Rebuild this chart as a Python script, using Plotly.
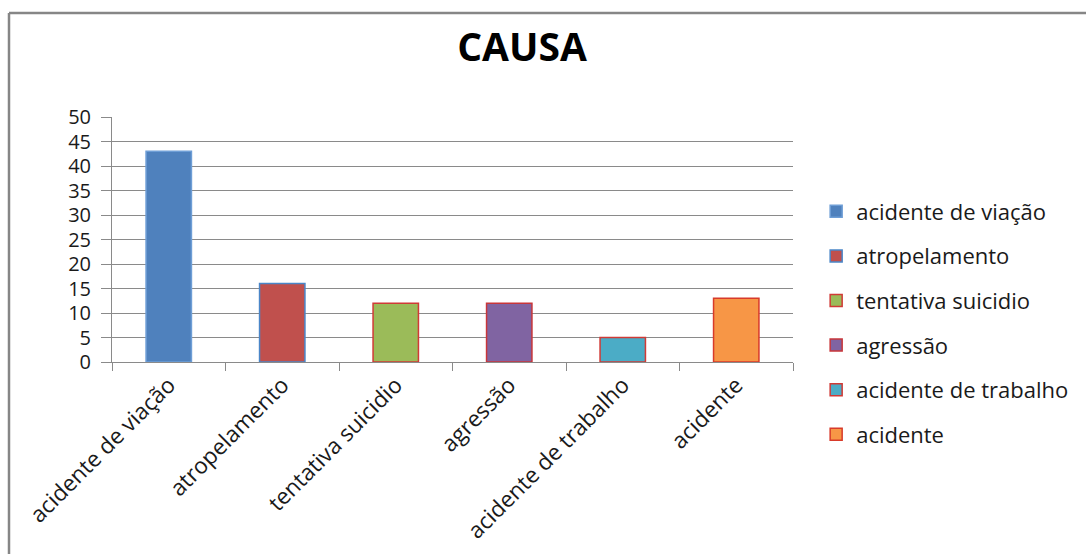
import plotly.graph_objects as go

# Cause categories and their counts
categories = ["acidente de viação", "atropelamento", "tentativa suicidio",
              "agressão", "acidente de trabalho", "acidente"]
values = [43, 16, 12, 12, 5, 13]
fill_colors = ["#4F81BD", "#C0504D", "#9BBB59", "#8064A2", "#4BACC6", "#F79646"]
edge_colors = ["#6E9ED6", "#4A86C8", "#D03A36", "#C8363A", "#D03A36", "#D83A2A"]
y_ticks = [0, 5, 10, 15, 20, 25, 30, 35, 40, 45, 50]

FONT = "Open Sans"
TEXT = "#1a1a1a"
SIZE = 22.5

fig = go.Figure()
for i, (cat, val) in enumerate(zip(categories, values)):
    fig.add_trace(go.Bar(
        x=[cat], y=[val], name=cat, width=0.4,
        legendgroup=cat,
        marker=dict(color=fill_colors[i],
                    line=dict(color=edge_colors[i], width=1.5)),
    ))

fig.update_layout(
    width=1086, height=554,
    margin=dict(l=112, r=293, t=117, b=192, autoexpand=False),
    paper_bgcolor="white", plot_bgcolor="white",
    barmode="overlay",
    font=dict(family=FONT, size=SIZE, color=TEXT),
    title=dict(text="<b>CAUSA</b>", x=522 / 1086, xanchor="center",
               y=1 - 47 / 554, yanchor="middle", xref="container", yref="container",
               font=dict(family=FONT, size=39, color="black")),
    legend=dict(x=1.034, xanchor="left", y=0.70, yanchor="top",
                tracegroupgap=13, maxheight=500,
                font=dict(family=FONT, size=22, color=TEXT),
                itemwidth=30, bgcolor="rgba(0,0,0,0)"),
    showlegend=True,
)

fig.update_xaxes(
    type="category", categoryorder="array", categoryarray=categories,
    tickangle=-45, ticks="outside", ticklen=8, tickcolor="#8a8a8a",
    tickson="boundaries", showline=True, linecolor="#8a8a8a", linewidth=1,
    showgrid=False, automargin=False,
    tickfont=dict(family=FONT, size=SIZE, color=TEXT),
)
fig.update_yaxes(
    range=[0, 50], tickvals=y_ticks, ticks="outside", ticklen=10,
    tickcolor="#8a8a8a", showline=True, linecolor="#8a8a8a", linewidth=1,
    showgrid=True, gridcolor="#8a8a8a", gridwidth=1, zeroline=False,
    ticklabelstandoff=6, automargin=False,
    tickfont=dict(family=FONT, size=20, color=TEXT),
)

# Outer chart frame (left and top edges)
fig.add_shape(type="line", xref="paper", yref="paper",
              x0=(9 - 112) / 681, x1=(9 - 112) / 681,
              y0=(362 - 13) / 245, y1=(362 - 560) / 245,
              line=dict(color="#868686", width=2.5))
fig.add_shape(type="line", xref="paper", yref="paper",
              x0=(9 - 112) / 681, x1=(1090 - 112) / 681,
              y0=(362 - 13) / 245, y1=(362 - 13) / 245,
              line=dict(color="#868686", width=2.5))

fig.write_html("out.html")
